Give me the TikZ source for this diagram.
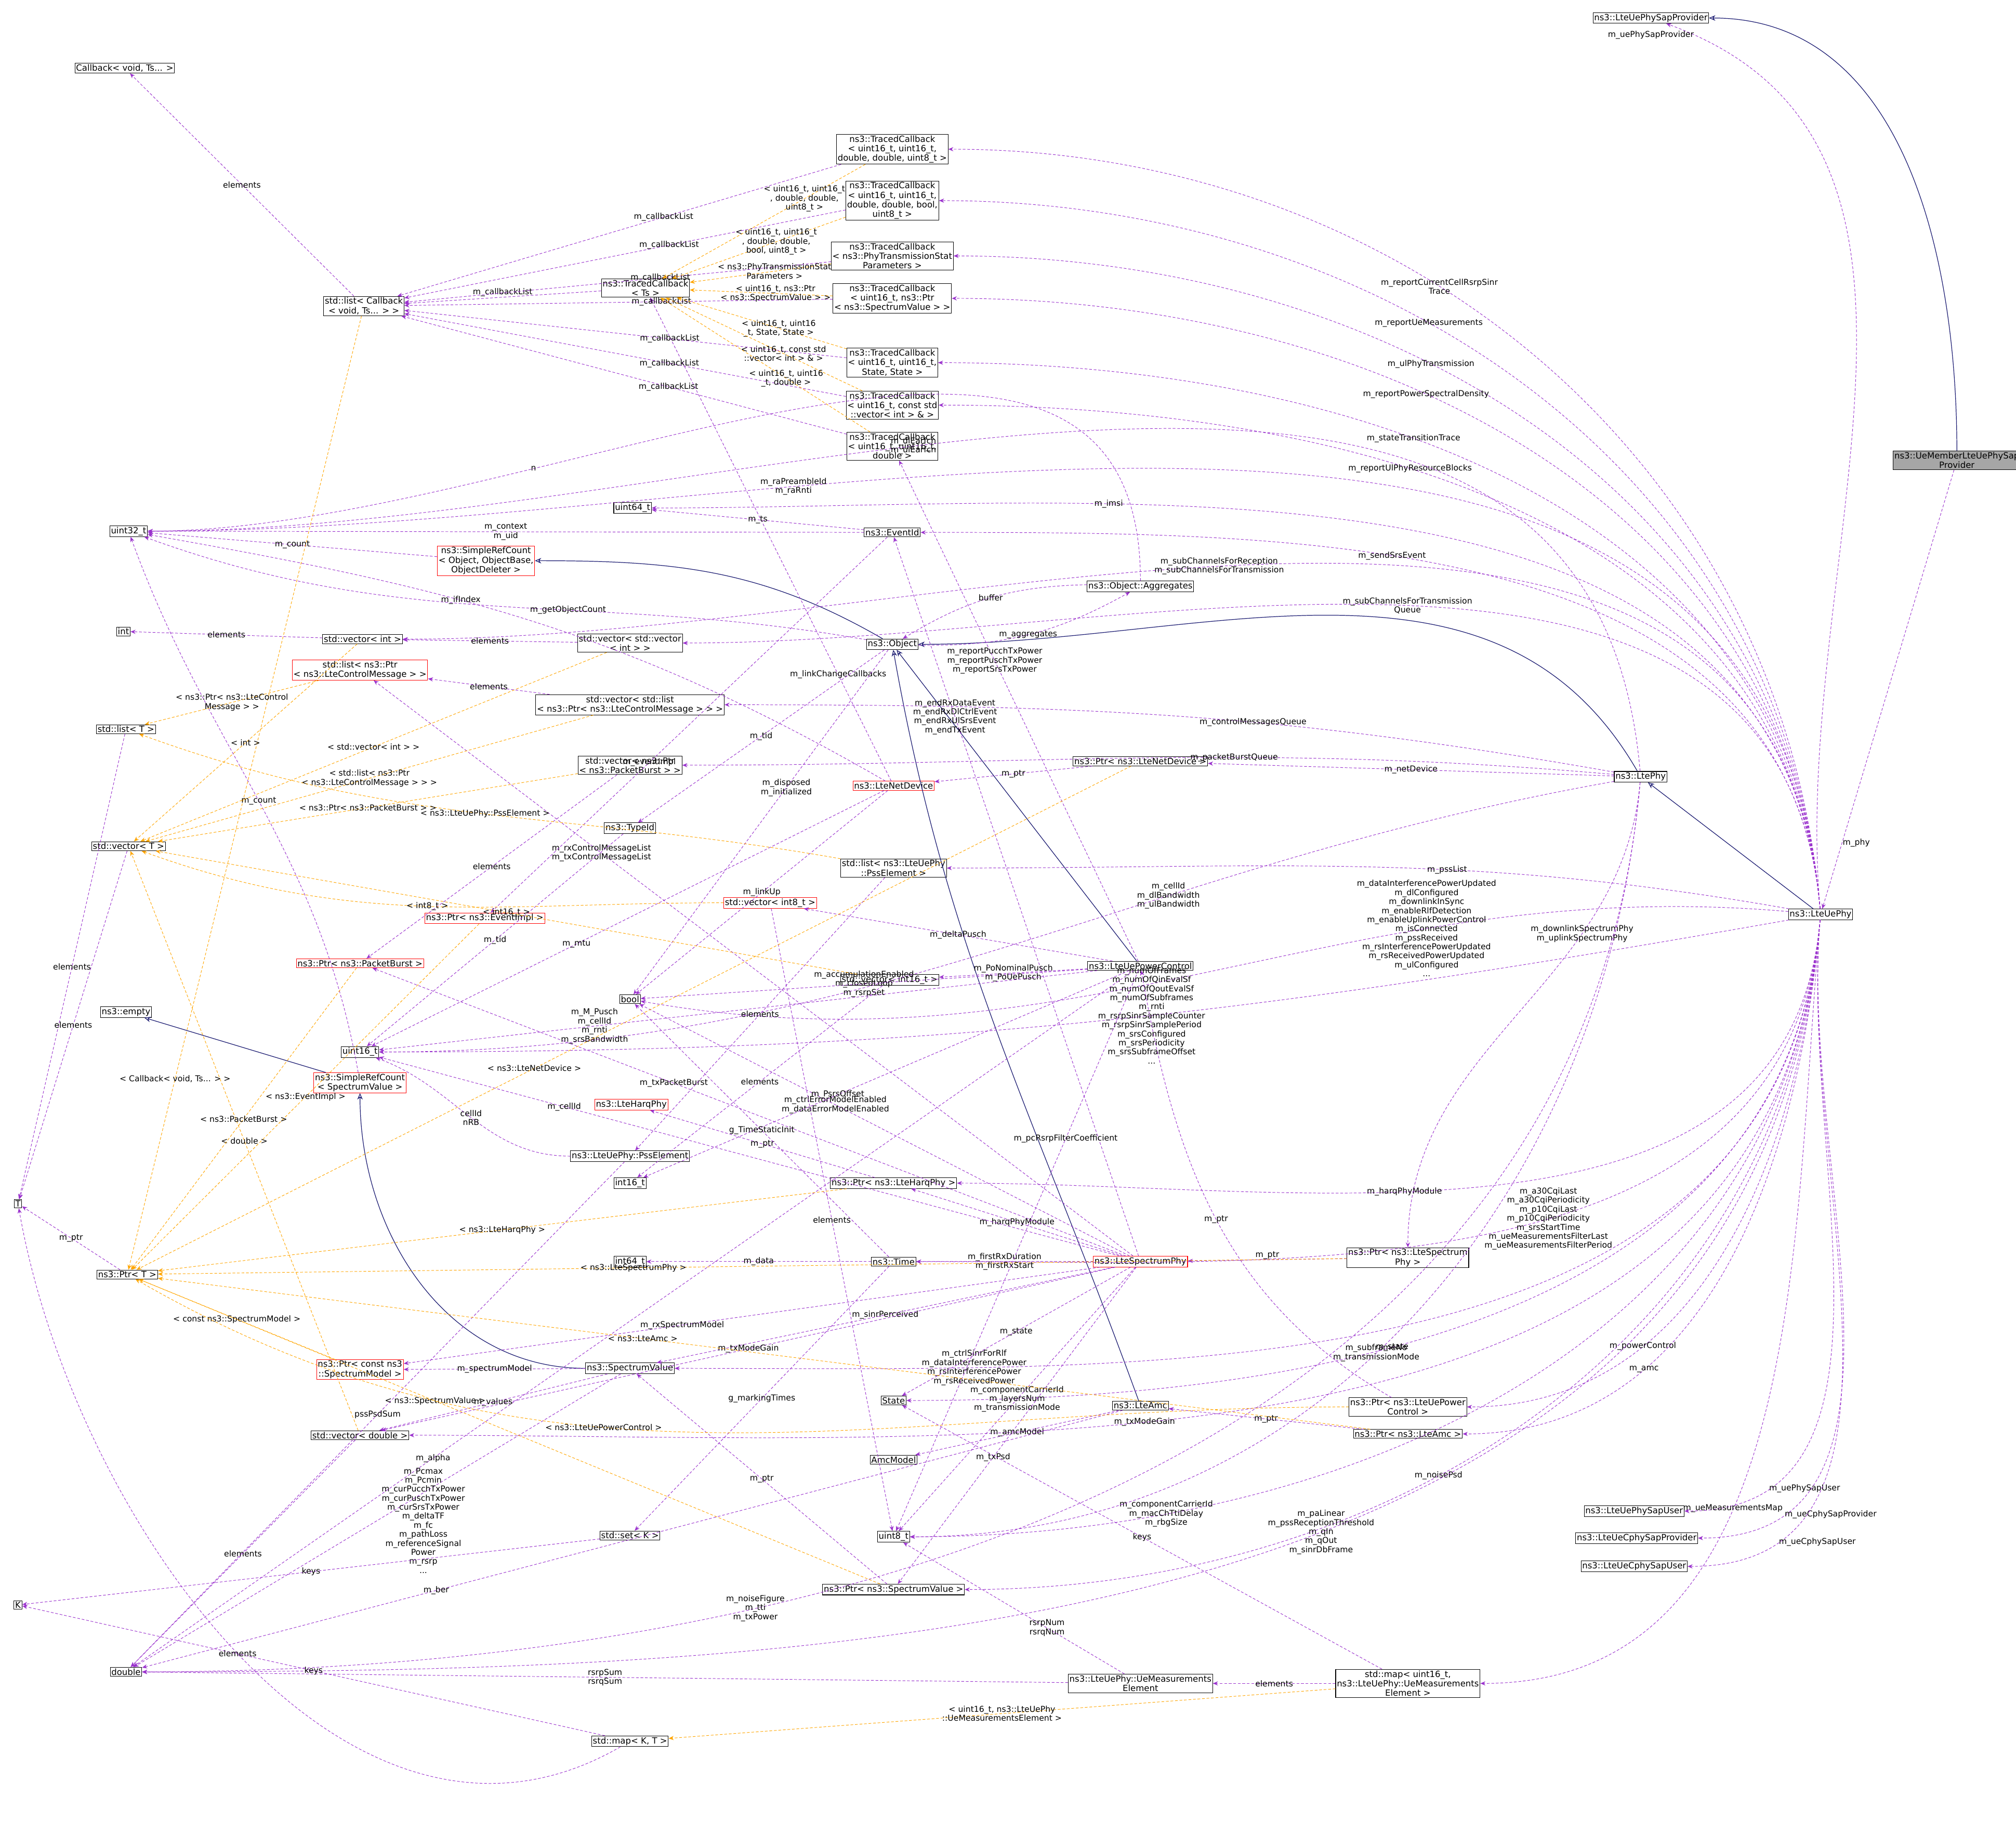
\documentclass[tikz,border=0pt]{standalone}
\usepackage{fontspec}
\setmainfont{DejaVu Sans}
\usepackage{tikz}
\usetikzlibrary{arrows.meta}

\definecolor{usecol}{HTML}{9A32CD}
\definecolor{tplcol}{HTML}{FFA500}
\definecolor{inhcol}{HTML}{191970}

\tikzset{
  cls/.style={draw=black, fill=white, rectangle, inner sep=0.65pt, line width=0.3pt, align=center,
    font=\fontsize{4.75}{5.25}\selectfont},
  redcls/.style={cls, draw=red},
  rootcls/.style={cls, fill=black!35},
  lbl/.style={font=\fontsize{4.5}{5}\selectfont, align=center, inner sep=0.25pt},
  use/.style={draw=usecol, dash pattern=on 1.5pt off 1pt, line width=0.28pt, -{Stealth[length=2.8pt,width=2.3pt]}},
  tpl/.style={draw=tplcol, dash pattern=on 1.5pt off 1pt, line width=0.28pt, -{Stealth[length=2.8pt,width=2.3pt]}},
  inh/.style={draw=inhcol, line width=0.35pt, -{Stealth[open,length=3.5pt,width=3pt]}},
  goup/.style={out=95, in=0},
  godown/.style={out=-95, in=0}
}

\begin{document}
\begin{tikzpicture}[x=0.25mm, y=-0.25mm]
\useasboundingbox (0,0) rectangle (1568,1436);

% classes on the right
\node[cls] (sapprov) at (1284,14) {ns3::LteUePhySapProvider};
\node[rootcls] (member) at (1522,358) {ns3::UeMemberLteUePhySap\\Provider};
\node[cls] (uephy) at (1416,711) {ns3::LteUePhy};
\node[cls] (ltephy) at (1276,604) {ns3::LtePhy};
\node[cls] (sapuser) at (1271,1175) {ns3::LteUePhySapUser};
\node[cls] (csapprov) at (1273,1196) {ns3::LteUeCphySapProvider};
\node[cls] (csapuser) at (1271,1218) {ns3::LteUeCphySapUser};

% traced callbacks
\node[cls] (tcrsrp) at (694,116) {ns3::TracedCallback\\< uint16\_t, uint16\_t,\\ double, double, uint8\_t >};
\node[cls] (tcmeas) at (694,156) {ns3::TracedCallback\\< uint16\_t, uint16\_t,\\ double, double, bool,\\ uint8\_t >};
\node[cls] (tcstat) at (694,199) {ns3::TracedCallback\\< ns3::PhyTransmissionStat\\Parameters >};
\node[cls] (tcts) at (502,224) {ns3::TracedCallback\\< Ts >};
\node[cls] (cblist) at (283,238) {std::list< Callback\\< void, Ts... > >};
\node[cls] (callback) at (97,53) {Callback< void, Ts... >};
\node[cls] (tcpsd) at (694,232) {ns3::TracedCallback\\< uint16\_t, ns3::Ptr\\< ns3::SpectrumValue > >};
\node[cls] (tcstate) at (694,282) {ns3::TracedCallback\\< uint16\_t, uint16\_t,\\ State, State >};
\node[cls] (tcvec) at (694,315) {ns3::TracedCallback\\< uint16\_t, const std\\::vector< int > \& >};
\node[cls] (tcdbl) at (694,347) {ns3::TracedCallback\\< uint16\_t, uint16\_t,\\ double >};

% middle column
\node[cls] (u64) at (492,395) {uint64\_t};
\node[cls] (u32) at (100,413) {uint32\_t};
\node[cls] (eventid) at (694,414) {ns3::EventId};
\node[redcls] (srcobj) at (378,436) {ns3::SimpleRefCount\\< Object, ObjectBase,\\ ObjectDeleter >};
\node[cls] (aggr) at (887,456) {ns3::Object::Aggregates};
\node[cls] (int) at (96,491) {int};
\node[cls] (vecint) at (282,497) {std::vector< int >};
\node[cls] (vecvec) at (490,500) {std::vector< std::vector\\< int > >};
\node[cls] (object) at (694,501) {ns3::Object};
\node[redcls] (lstmsg) at (280,521) {std::list< ns3::Ptr\\< ns3::LteControlMessage > >};
\node[cls] (veclst) at (490,548) {std::vector< std::list\\< ns3::Ptr< ns3::LteControlMessage > > >};
\node[cls] (listt) at (98,567) {std::list< T >};
\node[cls] (ptrdev) at (887,592) {ns3::Ptr< ns3::LteNetDevice >};
\node[cls] (vecpb) at (490,595) {std::vector< ns3::Ptr\\< ns3::PacketBurst > >};
\node[cls] (vect) at (100,658) {std::vector< T >};
\node[redcls] (netdev) at (695,611) {ns3::LteNetDevice};
\node[cls] (typeid) at (490,644) {ns3::TypeId};
\node[cls] (lstpss) at (695,675) {std::list< ns3::LteUePhy\\::PssElement >};
\node[redcls] (ptrev) at (377,714) {ns3::Ptr< ns3::EventImpl >};
\node[redcls] (veci8) at (599,702) {std::vector< int8\_t >};
\node[redcls] (ptrpb) at (280,749) {ns3::Ptr< ns3::PacketBurst >};
\node[cls] (empty) at (98,787) {ns3::empty};
\node[cls] (bool) at (490,777) {bool};
\node[cls] (veci16) at (692,762) {std::vector< int16\_t >};
\node[cls] (pwrctl) at (887,751) {ns3::LteUePowerControl};
\node[cls] (u16) at (280,818) {uint16\_t};
\node[redcls] (srcsv) at (280,842) {ns3::SimpleRefCount\\< SpectrumValue >};
\node[redcls] (harq) at (491,859) {ns3::LteHarqPhy};
\node[cls] (psselem) at (490,899) {ns3::LteUePhy::PssElement};
\node[cls] (i16) at (490,920) {int16\_t};
\node[cls] (ptrharq) at (695,920) {ns3::Ptr< ns3::LteHarqPhy >};
\node[cls] (T) at (14,936) {T};
\node[cls] (ptrt) at (99,991) {ns3::Ptr< T >};
\node[cls] (i64) at (490,981) {int64\_t};
\node[cls] (time) at (695,981) {ns3::Time};
\node[redcls] (specphy) at (887,981) {ns3::LteSpectrumPhy};
\node[cls] (ptrsp) at (1095,978) {ns3::Ptr< ns3::LteSpectrum\\Phy >};
\node[redcls] (ptrsm) at (280,1065) {ns3::Ptr< const ns3\\::SpectrumModel >};
\node[cls] (specval) at (490,1064) {ns3::SpectrumValue};
\node[cls] (state) at (695,1089) {State};
\node[cls] (amc) at (887,1093) {ns3::LteAmc};
\node[cls] (ptrpc) at (1095,1094) {ns3::Ptr< ns3::LteUePower\\Control >};
\node[cls] (vecdbl) at (280,1116) {std::vector< double >};
\node[cls] (amcmodel) at (695,1135) {AmcModel};
\node[cls] (ptramc) at (1095,1115) {ns3::Ptr< ns3::LteAmc >};
\node[cls] (u8) at (695,1195) {uint8\_t};
\node[cls] (setk) at (490,1194) {std::set< K >};
\node[cls] (K) at (14,1248) {K};
\node[cls] (ptrsv) at (695,1236) {ns3::Ptr< ns3::SpectrumValue >};
\node[cls] (double) at (98,1300) {double};
\node[cls] (measel) at (887,1309) {ns3::LteUePhy::UeMeasurements\\Element};
\node[cls] (measmap) at (1095,1309) {std::map< uint16\_t,\\ ns3::LteUePhy::UeMeasurements\\Element >};
\node[cls] (mapkt) at (490,1354) {std::map< K, T >};

% inheritance
\draw[inh] (member) to[out=90, in=0] (sapprov);
\draw[inh] (uephy) -- (ltephy);
\draw[inh] (ltephy) to[out=120, in=0] (object);
\draw[inh] (object) to[out=150, in=0] (srcobj);
\draw[inh] (pwrctl) -- (object);
\draw[inh] (amc) to[out=110, in=-80] (object);
\draw[inh] (srcsv) -- (empty);
\draw[inh] (specval) to[out=180, in=-90] (srcsv);

% members of the ue phy
\draw[use] (member) -- node[lbl, right, pos=0.85] {m\_phy} (uephy);
\draw[use] (uephy) to[out=95, in=-20] node[lbl, pos=0.97, left] {m\_uePhySapProvider} (sapprov);
\draw[use] (uephy) to[goup] node[lbl, pos=0.7] {m\_raPreambleId\\m\_raRnti} (u32);
\draw[use] (uephy) to[goup] node[lbl, pos=0.6] {m\_reportCurrentCellRsrpSinr\\Trace} (tcrsrp);
\draw[use] (uephy) to[goup] node[lbl, pos=0.6] {m\_reportUeMeasurements} (tcmeas);
\draw[use] (uephy) to[goup] node[lbl, pos=0.6] {m\_ulPhyTransmission} (tcstat);
\draw[use] (uephy) to[goup] node[lbl, pos=0.6] {m\_reportPowerSpectralDensity} (tcpsd);
\draw[use] (uephy) to[goup] node[lbl, pos=0.6] {m\_stateTransitionTrace} (tcstate);
\draw[use] (uephy) to[goup] node[lbl, pos=0.6] {m\_reportUlPhyResourceBlocks} (tcvec);
\draw[use] (uephy) to[goup] node[lbl, pos=0.7] {m\_imsi} (u64);
\draw[use] (uephy) to[goup] node[lbl, pos=0.6] {m\_sendSrsEvent} (eventid);
\draw[use] (uephy) to[goup] node[lbl, pos=0.55] {m\_subChannelsForReception\\m\_subChannelsForTransmission} (vecint);
\draw[use] (uephy) to[goup] node[lbl, pos=0.5] {m\_subChannelsForTransmission\\Queue} (vecvec);
\draw[use] (uephy) to[out=175, in=-10] node[lbl, pos=0.3] {m\_dataInterferencePowerUpdated\\m\_dlConfigured\\m\_downlinkInSync\\m\_enableRlfDetection\\m\_enableUplinkPowerControl\\m\_isConnected\\m\_pssReceived\\m\_rsInterferencePowerUpdated\\m\_rsReceivedPowerUpdated\\m\_ulConfigured\\...} (bool);
\draw[use] (uephy) to[out=170, in=0] node[lbl, pos=0.4] {m\_pssList} (lstpss);
\draw[use] (uephy) to[out=-170, in=0] node[lbl, pos=0.45] {m\_numOfFrames\\m\_numOfQinEvalSf\\m\_numOfQoutEvalSf\\m\_numOfSubframes\\m\_rnti\\m\_rsrpSinrSampleCounter\\m\_rsrpSinrSamplePeriod\\m\_srsConfigured\\m\_srsPeriodicity\\m\_srsSubframeOffset\\...} (u16);
\draw[use] (uephy) to[godown] node[lbl, pos=0.6] {m\_harqPhyModule} (ptrharq);
\draw[use] (uephy) to[godown] node[lbl, pos=0.45] {m\_a30CqiLast\\m\_a30CqiPeriodicity\\m\_p10CqiLast\\m\_p10CqiPeriodicity\\m\_srsStartTime\\m\_ueMeasurementsFilterLast\\m\_ueMeasurementsFilterPeriod} (time);
\draw[use] (uephy) to[godown] node[lbl, pos=0.6] {m\_state} (state);
\draw[use] (uephy) to[godown] node[lbl, pos=0.7] {m\_powerControl} (ptrpc);
\draw[use] (uephy) to[godown] node[lbl, pos=0.7] {m\_amc} (ptramc);
\draw[use] (uephy) to[godown] node[lbl, pos=0.8] {m\_componentCarrierId\\m\_macChTtiDelay\\m\_rbgSize} (u8);
\draw[use] (uephy) to[godown] node[lbl, pos=0.85, right] {m\_uePhySapUser} (sapuser);
\draw[use] (uephy) to[godown] node[lbl, pos=0.85, right] {m\_ueCphySapProvider} (csapprov);
\draw[use] (uephy) to[godown] node[lbl, pos=0.85, right] {m\_ueCphySapUser} (csapuser);
\draw[use] (uephy) to[godown] node[lbl, pos=0.6] {m\_noisePsd} (ptrsv);
\draw[use] (uephy) to[godown] node[lbl, pos=0.8] {m\_ctrlSinrForRlf\\m\_dataInterferencePower\\m\_rsInterferencePower\\m\_rsReceivedPower} (specval);
\draw[use] (uephy) to[godown] node[lbl, pos=0.6] {m\_txModeGain} (vecdbl);
\draw[use] (uephy) to[godown] node[lbl, pos=0.6] {m\_ueMeasurementsMap} (measmap);
\draw[use] (uephy) to[godown] node[lbl, pos=0.45] {m\_paLinear\\m\_pssReceptionThreshold\\m\_qIn\\m\_qOut\\m\_sinrDbFrame} (double);

% members of the lte phy
\draw[use] (ltephy) to[goup] node[lbl, pos=0.6] {m\_dlEarfcn\\m\_ulEarfcn} (u32);
\draw[use] (ltephy) to[out=170, in=0] node[lbl, pos=0.4] {m\_controlMessagesQueue} (veclst);
\draw[use] (ltephy) to[out=175, in=0] node[lbl, pos=0.4] {m\_packetBurstQueue} (vecpb);
\draw[use] (ltephy) -- node[lbl, pos=0.5] {m\_netDevice} (ptrdev);
\draw[use] (ltephy) to[out=-170, in=0] node[lbl, pos=0.35] {m\_cellId\\m\_dlBandwidth\\m\_ulBandwidth} (u16);
\draw[use] (ltephy) to[out=-95, in=90] node[lbl, pos=0.3] {m\_downlinkSpectrumPhy\\m\_uplinkSpectrumPhy} (ptrsp);
\draw[use] (ltephy) to[godown] node[lbl, pos=0.55] {m\_subframeNo\\m\_transmissionMode} (u8);
\draw[use] (ltephy) to[godown] node[lbl, pos=0.7] {m\_noiseFigure\\m\_tti\\m\_txPower} (double);

% members of the spectrum phy
\draw[use] (specphy) -- node[lbl, pos=0.5] {m\_harqPhyModule} (ptrharq);
\draw[use] (specphy) -- node[lbl, pos=0.5] {m\_firstRxDuration\\m\_firstRxStart} (time);
\draw[use] (specphy) -- node[lbl, pos=0.6] {m\_rxSpectrumModel} (ptrsm);
\draw[use] (specphy) -- node[lbl, pos=0.5] {m\_sinrPerceived} (specval);
\draw[use] (specphy) -- node[lbl, pos=0.5] {m\_txModeGain} (vecdbl);
\draw[use] (specphy) -- node[lbl, pos=0.5] {m\_componentCarrierId\\m\_layersNum\\m\_transmissionMode} (u8);
\draw[use] (specphy) -- node[lbl, pos=0.6] {m\_txPsd} (ptrsv);
\draw[use] (specphy) -- node[lbl, pos=0.5] {m\_state} (state);
\draw[use] (specphy) -- node[lbl, pos=0.6] {m\_ctrlErrorModelEnabled\\m\_dataErrorModelEnabled} (bool);
\draw[use] (specphy) -- node[lbl, pos=0.75] {m\_cellId} (u16);
\draw[use] (specphy) -- node[lbl, pos=0.6] {m\_txPacketBurst} (ptrpb);
\draw[use] (specphy) -- node[lbl, pos=0.7] {m\_rxControlMessageList\\m\_txControlMessageList} (lstmsg);
\draw[use] (specphy) -- node[lbl, pos=0.75] {m\_endRxDataEvent\\m\_endRxDlCtrlEvent\\m\_endRxUlSrsEvent\\m\_endTxEvent} (eventid);

% members of the power control
\draw[use] (pwrctl) -- node[lbl, pos=0.5] {m\_accumulationEnabled\\m\_closedLoop\\m\_rsrpSet} (bool);
\draw[use] (pwrctl) -- node[lbl, pos=0.5] {m\_PoNominalPusch\\m\_PoUePusch} (veci16);
\draw[use] (pwrctl) -- node[lbl, pos=0.5] {m\_deltaPusch} (veci8);
\draw[use] (pwrctl) -- node[lbl, pos=0.7] {m\_M\_Pusch\\m\_cellId\\m\_rnti\\m\_srsBandwidth} (u16);
\draw[use] (pwrctl) -- node[lbl, pos=0.6] {m\_PsrsOffset} (i16);
\draw[use] (pwrctl) -- node[lbl, pos=0.3] {m\_pcRsrpFilterCoefficient} (u8);
\draw[use] (pwrctl) -- node[lbl, pos=0.7] {m\_alpha} (double);
\draw[use] (pwrctl) -- node[lbl, pos=0.6] {m\_reportPucchTxPower\\m\_reportPuschTxPower\\m\_reportSrsTxPower} (tcdbl);
\draw[use] (amc) -- node[lbl, pos=0.5] {m\_amcModel} (amcmodel);
\draw[use] (amc) -- node[lbl, pos=0.7] {m\_ber} (double);

% pointers
\draw[use] (ptramc) -- node[lbl, pos=0.5] {m\_ptr} (amc);
\draw[use] (ptrpc) to[out=150, in=-80] node[lbl, pos=0.5] {m\_ptr} (pwrctl);
\draw[use] (ptrsp) -- node[lbl, pos=0.5, above] {m\_ptr} (specphy);
\draw[use] (ptrharq) -- node[lbl, pos=0.5] {m\_ptr} (harq);
\draw[use] (ptrdev) -- node[lbl, pos=0.5] {m\_ptr} (netdev);
\draw[use] (ptrsv) -- node[lbl, pos=0.5] {m\_ptr} (specval);
\draw[use] (ptrt) -- node[lbl, pos=0.5] {m\_ptr} (T);

% the base classes and helpers
\draw[use] (netdev) -- node[lbl, pos=0.5] {m\_linkUp} (bool);
\draw[use] (netdev) -- node[lbl, pos=0.6] {m\_mtu} (u16);
\draw[use] (netdev) -- node[lbl, pos=0.22] {m\_linkChangeCallbacks} (tcts);
\draw[use] (netdev) to[out=150, in=-10] node[lbl, pos=0.6] {m\_ifIndex} (u32);
\draw[use] (object) -- node[lbl, pos=0.4] {m\_disposed\\m\_initialized} (bool);
\draw[use] (object) -- node[lbl, pos=0.5] {m\_tid} (typeid);
\draw[use] (object) to[bend right=15] node[lbl, pos=0.5] {m\_aggregates} (aggr);
\draw[use] (aggr) to[bend right=15] node[lbl, pos=0.5] {buffer} (object);
\draw[use] (aggr) to[out=90, in=0] node[lbl, pos=0.7] {n} (u32);
\draw[use] (object) to[out=170, in=-20] node[lbl, pos=0.4] {m\_getObjectCount} (u32);
\draw[use] (srcobj) -- node[lbl, pos=0.5] {m\_count} (u32);
\draw[use] (srcsv) to[out=100, in=-70] node[lbl, pos=0.5] {m\_count} (u32);
\draw[use] (eventid) -- node[lbl, pos=0.5] {m\_ts} (u64);
\draw[use] (eventid) -- node[lbl, pos=0.5] {m\_context\\m\_uid} (u32);
\draw[use] (eventid) -- node[lbl, pos=0.6] {m\_eventImpl} (ptrev);
\draw[use] (typeid) -- node[lbl, pos=0.5] {m\_tid} (u16);
\draw[use] (time) -- node[lbl, pos=0.5] {m\_data} (i64);
\draw[use] (time) -- node[lbl, pos=0.5] {g\_markingTimes} (setk);
\draw[use] (time) -- node[lbl, pos=0.5] {g\_TimeStaticInit} (bool);
\draw[use] (specval) -- node[lbl, pos=0.5] {m\_spectrumModel} (ptrsm);
\draw[use] (specval) -- node[lbl, pos=0.5, right=2pt] {m\_Pcmax\\m\_Pcmin\\m\_curPucchTxPower\\m\_curPuschTxPower\\m\_curSrsTxPower\\m\_deltaTF\\m\_fc\\m\_pathLoss\\m\_referenceSignal\\Power\\m\_rsrp\\...} (double);
\draw[use] (specval) -- node[lbl, pos=0.5] {m\_values} (vecdbl);
\draw[use] (psselem) to[out=180, in=-20] node[lbl, pos=0.5] {cellId\\nRB} (u16);
\draw[use] (psselem) -- node[lbl, pos=0.5] {pssPsdSum} (double);
\draw[use] (measel) -- node[lbl, pos=0.5] {rsrpSum\\rsrqSum} (double);
\draw[use] (measel) -- node[lbl, pos=0.35] {rsrpNum\\rsrqNum} (u8);

% containers
\draw[use] (vecint) -- node[lbl, pos=0.5] {elements} (int);
\draw[use] (vecvec) -- node[lbl, pos=0.5] {elements} (vecint);
\draw[use] (veclst) -- node[lbl, pos=0.5] {elements} (lstmsg);
\draw[use] (vecpb) -- node[lbl, pos=0.5] {elements} (ptrpb);
\draw[use] (lstpss) -- node[lbl, pos=0.5] {elements} (psselem);
\draw[use] (veci8) -- node[lbl, pos=0.5] {elements} (u8);
\draw[use] (veci16) -- node[lbl, pos=0.5] {elements} (i16);
\draw[use] (vecdbl) -- node[lbl, pos=0.5] {elements} (double);
\draw[use] (setk) -- node[lbl, pos=0.5] {keys} (K);
\draw[use] (mapkt) -- node[lbl, pos=0.5] {keys} (K);
\draw[use] (mapkt) to[out=-150, in=-80] node[lbl, pos=0.5] {elements} (T);
\draw[use] (measmap) -- node[lbl, pos=0.5] {elements} (measel);
\draw[use] (measmap) -- node[lbl, pos=0.5] {keys} (state);
\draw[use] (listt) -- node[lbl, pos=0.5] {elements} (T);
\draw[use] (vect) -- node[lbl, pos=0.5] {elements} (T);
\draw[use] (cblist) -- node[lbl, pos=0.5] {elements} (callback);

% callback lists
\draw[use] (tcts) -- node[lbl, pos=0.5, above] {m\_callbackList} (cblist);
\foreach \tc in {tcrsrp, tcmeas, tcstat, tcpsd, tcstate, tcvec, tcdbl}
{
  \draw[use] (\tc) -- node[lbl, pos=0.4] {m\_callbackList} (cblist);
}

% template instances
\draw[tpl] (tcrsrp) -- node[lbl, pos=0.3] {< uint16\_t, uint16\_t\\, double, double,\\ uint8\_t >} (tcts);
\draw[tpl] (tcmeas) -- node[lbl, pos=0.4] {< uint16\_t, uint16\_t\\, double, double,\\ bool, uint8\_t >} (tcts);
\draw[tpl] (tcstat) -- node[lbl, pos=0.4] {< ns3::PhyTransmissionStat\\Parameters >} (tcts);
\draw[tpl] (tcpsd) -- node[lbl, pos=0.4] {< uint16\_t, ns3::Ptr\\< ns3::SpectrumValue > >} (tcts);
\draw[tpl] (tcstate) -- node[lbl, pos=0.4] {< uint16\_t, uint16\\\_t, State, State >} (tcts);
\draw[tpl] (tcvec) -- node[lbl, pos=0.4] {< uint16\_t, const std\\::vector< int > \& >} (tcts);
\draw[tpl] (tcdbl) -- node[lbl, pos=0.4] {< uint16\_t, uint16\\\_t, double >} (tcts);
\draw[tpl] (cblist) -- node[lbl, pos=0.8] {< Callback< void, Ts... > >} (ptrt);
\draw[tpl] (vecint) -- node[lbl, pos=0.5] {< int >} (vect);
\draw[tpl] (lstmsg) -- node[lbl, pos=0.5] {< ns3::Ptr< ns3::LteControl\\Message > >} (listt);
\draw[tpl] (vecvec) -- node[lbl, pos=0.5] {< std::vector< int > >} (vect);
\draw[tpl] (veclst) -- node[lbl, pos=0.5] {< std::list< ns3::Ptr\\< ns3::LteControlMessage > > >} (vect);
\draw[tpl] (lstpss) to[out=170, in=-20] node[lbl, pos=0.5] {< ns3::LteUePhy::PssElement >} (listt);
\draw[tpl] (vecpb) -- node[lbl, pos=0.5] {< ns3::Ptr< ns3::PacketBurst > >} (vect);
\draw[tpl] (veci8) to[out=180, in=-20] node[lbl, pos=0.5] {< int8\_t >} (vect);
\draw[tpl] (veci16) -- node[lbl, pos=0.5] {< int16\_t >} (vect);
\draw[tpl] (vecdbl) -- node[lbl, pos=0.5] {< double >} (vect);
\draw[tpl] (ptrdev) -- node[lbl, pos=0.6] {< ns3::LteNetDevice >} (ptrt);
\draw[tpl] (ptrev) -- node[lbl, pos=0.5] {< ns3::EventImpl >} (ptrt);
\draw[tpl] (ptrpb) -- node[lbl, pos=0.5] {< ns3::PacketBurst >} (ptrt);
\draw[tpl] (ptrharq) -- node[lbl, pos=0.5] {< ns3::LteHarqPhy >} (ptrt);
\draw[tpl] (ptrsp) -- node[lbl, pos=0.6] {< ns3::LteSpectrumPhy >} (ptrt);
\draw[tpl] (ptrsm) -- node[lbl, pos=0.5] {< const ns3::SpectrumModel >} (ptrt);
\draw[tpl] (ptramc) -- node[lbl, pos=0.6] {< ns3::LteAmc >} (ptrt);
\draw[tpl] (ptrsv) -- node[lbl, pos=0.6] {< ns3::SpectrumValue >} (ptrt);
\draw[tpl] (ptrpc) to[out=180, in=-30] node[lbl, pos=0.6] {< ns3::LteUePowerControl >} (ptrt);
\draw[tpl] (measmap) -- node[lbl, pos=0.5] {< uint16\_t, ns3::LteUePhy\\::UeMeasurementsElement >} (mapkt);

\end{tikzpicture}
\end{document}
